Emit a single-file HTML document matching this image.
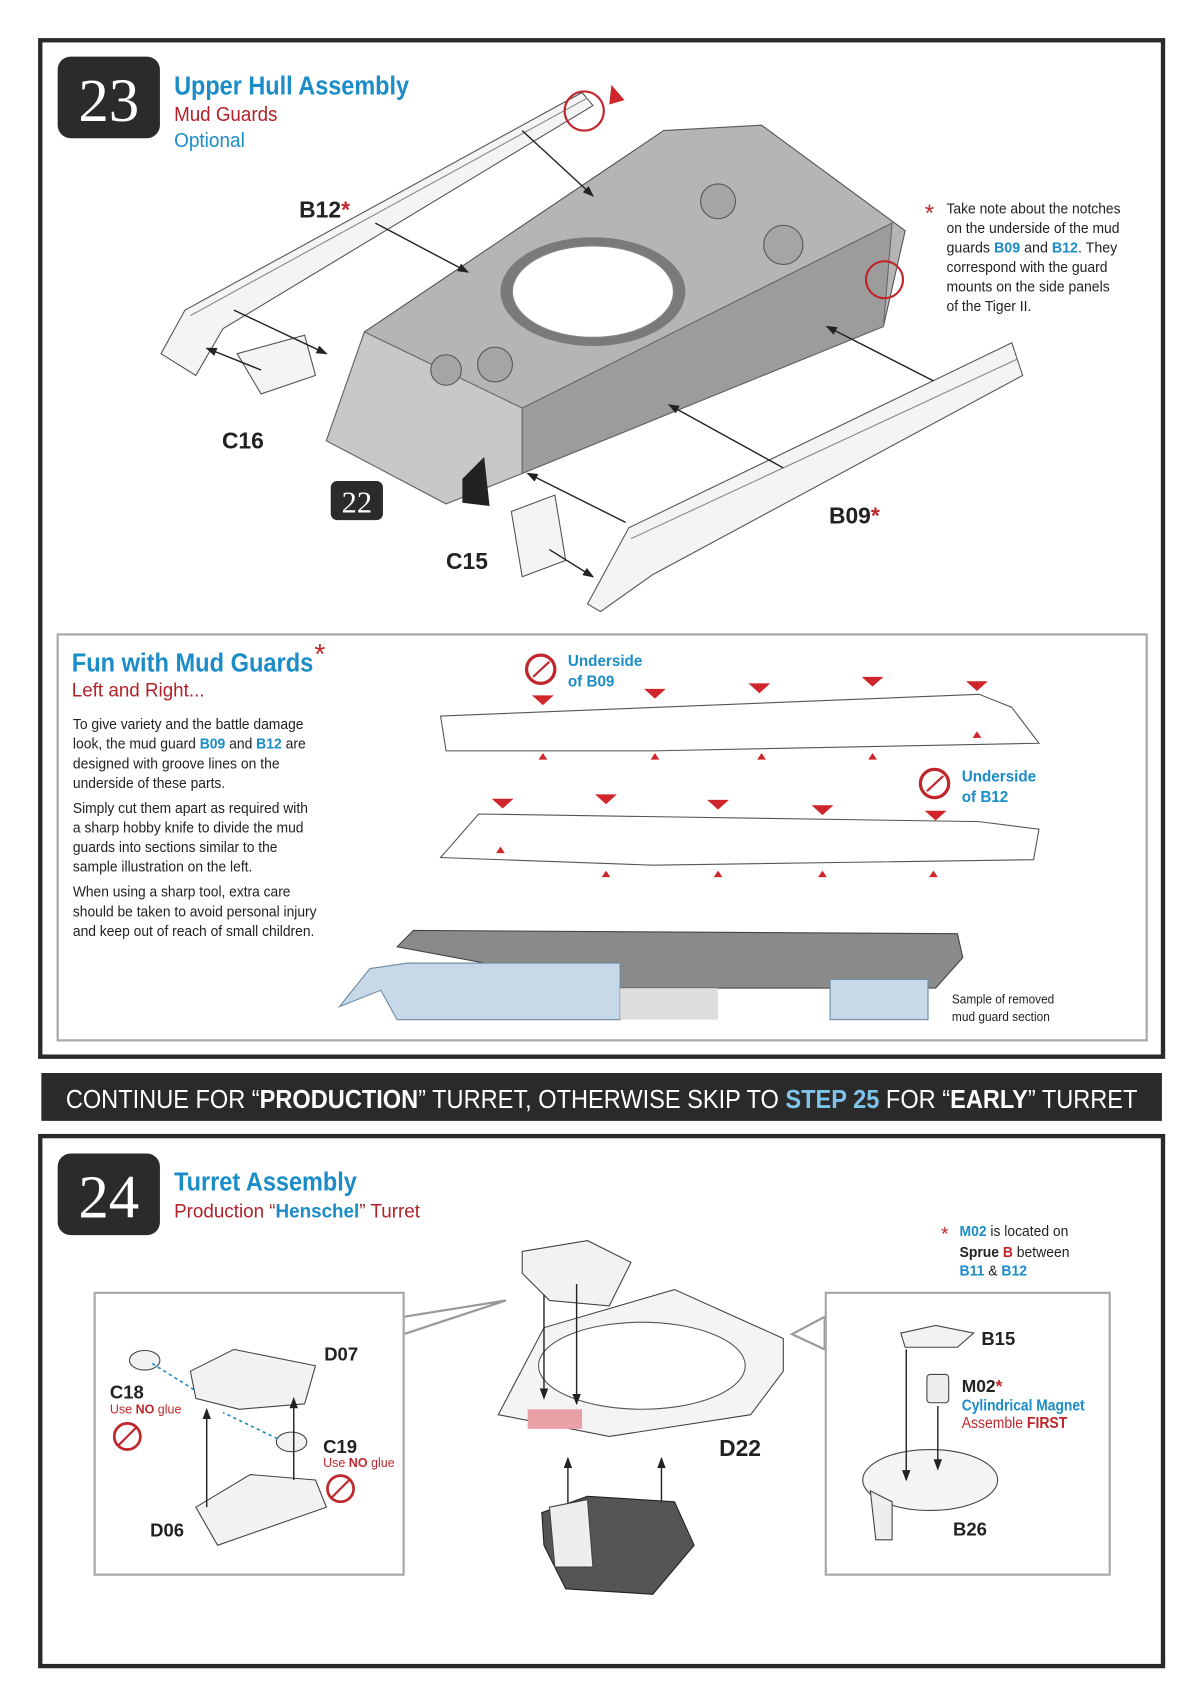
<!DOCTYPE html>
<html><head><meta charset="utf-8"><style>
html,body{margin:0;padding:0;background:#fff}
svg{display:block}
text{font-family:"Liberation Sans",sans-serif}
.n{font-family:"Liberation Serif",serif}
</style></head><body>
<svg width="1200" height="1702" viewBox="0 0 1103 1564" preserveAspectRatio="none" xmlns="http://www.w3.org/2000/svg">
<defs><marker id="a" markerWidth="8" markerHeight="8" refX="7" refY="4" orient="auto"><path d="M0,1 L8,4 L0,7z" fill="#222"/></marker></defs>
<!-- frame 1 -->
<rect x="37" y="37" width="1032" height="934" fill="#fff" stroke="#2a2a2a" stroke-width="4"/>
<rect x="53" y="52" width="94" height="75" rx="12" fill="#2b2b2b"/>
<text x="100" y="111" class="n" font-size="56" fill="#fff" text-anchor="middle">23</text>
<text x="160" y="87" font-size="24" font-weight="bold" fill="#1a8cc8" textLength="216" lengthAdjust="spacingAndGlyphs">Upper Hull Assembly</text>
<text x="160" y="111" font-size="19" fill="#b3212a" textLength="95" lengthAdjust="spacingAndGlyphs">Mud Guards</text>
<text x="160" y="135" font-size="19" fill="#1a8cc8" textLength="65" lengthAdjust="spacingAndGlyphs">Optional</text>
<!-- hull -->
<polygon points="300,405 335,305 610,120 700,115 832,212 812,300 480,435 410,463" fill="#b5b5b5" stroke="#555"/>
<polygon points="300,405 335,305 480,375 480,435 410,463" fill="#c8c8c8" stroke="#666"/>
<polygon points="480,375 820,205 812,300 480,435" fill="#9c9c9c" stroke="#666"/>
<ellipse cx="545" cy="268" rx="85" ry="50" fill="#7a7a7a"/>
<ellipse cx="545" cy="268" rx="74" ry="42" fill="#fff" stroke="#888"/>
<circle cx="660" cy="185" r="16" fill="#a5a5a5" stroke="#555"/><circle cx="720" cy="225" r="18" fill="#a5a5a5" stroke="#555"/><circle cx="410" cy="340" r="14" fill="#a5a5a5" stroke="#555"/><circle cx="455" cy="335" r="16" fill="#a5a5a5" stroke="#555"/>
<polygon points="425,440 445,420 450,465 425,462" fill="#222"/>
<!-- B12 guard -->
<polygon points="148,325 170,285 535,85 545,97 205,302 180,345" fill="#f4f4f4" stroke="#555"/>
<line x1="175" y1="290" x2="540" y2="90" stroke="#888"/>
<circle cx="537" cy="102" r="18" fill="none" stroke="#c0272d" stroke-width="2"/>
<polygon points="562,78 574,92 560,96" fill="#d0252b"/>
<polygon points="218,325 280,308 290,345 240,362" fill="#f4f4f4" stroke="#555"/>
<!-- B09 guard -->
<polygon points="540,555 578,485 930,315 940,345 600,528 552,562" fill="#f4f4f4" stroke="#555"/>
<line x1="580" y1="495" x2="935" y2="330" stroke="#888"/>
<polygon points="470,470 510,455 520,515 480,530" fill="#f4f4f4" stroke="#555"/>
<circle cx="813" cy="257" r="17" fill="none" stroke="#c0272d" stroke-width="2"/>
<!-- arrows -->
<g stroke="#222" stroke-width="1.3" marker-end="url(#a)">
<line x1="480" y1="120" x2="545" y2="180"/><line x1="345" y1="205" x2="430" y2="250"/><line x1="215" y1="285" x2="300" y2="325"/><line x1="240" y1="340" x2="190" y2="320"/>
<line x1="858" y1="350" x2="760" y2="300"/><line x1="720" y1="430" x2="615" y2="372"/><line x1="575" y1="480" x2="485" y2="435"/><line x1="505" y1="505" x2="545" y2="530"/>
</g>
<text x="275" y="200" font-size="21" font-weight="bold" fill="#222">B12<tspan fill="#c0272d">*</tspan></text>
<text x="204" y="412" font-size="21" font-weight="bold" fill="#222">C16</text>
<text x="762" y="481" font-size="21" font-weight="bold" fill="#222">B09<tspan fill="#c0272d">*</tspan></text>
<text x="410" y="523" font-size="21" font-weight="bold" fill="#222">C15</text>
<rect x="304" y="442" width="48" height="36" rx="6" fill="#2b2b2b"/>
<text x="328" y="471" class="n" font-size="28" fill="#fff" text-anchor="middle">22</text>
<text x="850" y="203" font-size="22" fill="#c0272d">*</text>
<g font-size="13.5" fill="#222" lengthAdjust="spacingAndGlyphs"><text x="870" y="196" textLength="160" lengthAdjust="spacingAndGlyphs">Take note about the notches</text><text x="870" y="214" textLength="159" lengthAdjust="spacingAndGlyphs">on the underside of the mud</text><text x="870" y="232" textLength="157" lengthAdjust="spacingAndGlyphs">guards <tspan fill="#1a8cc8" font-weight="bold">B09</tspan> and <tspan fill="#1a8cc8" font-weight="bold">B12</tspan>.  They</text><text x="870" y="250" textLength="148" lengthAdjust="spacingAndGlyphs">correspond with the guard</text><text x="870" y="268" textLength="150" lengthAdjust="spacingAndGlyphs">mounts on the side panels</text><text x="870" y="286" textLength="78" lengthAdjust="spacingAndGlyphs">of the Tiger II.</text></g>
<!-- fun box -->
<rect x="53" y="583" width="1001" height="373" fill="#fff" stroke="#a8a8a8" stroke-width="2"/>
<text x="66" y="617" font-size="24" font-weight="bold" fill="#1a8cc8" textLength="222" lengthAdjust="spacingAndGlyphs">Fun with Mud Guards</text><text x="289" y="610" font-size="26" fill="#c0272d">*</text>
<text x="66" y="640" font-size="18" fill="#b3212a" textLength="122" lengthAdjust="spacingAndGlyphs">Left and Right...</text>
<g font-size="13.5" fill="#222"><text x="67" y="670" textLength="212" lengthAdjust="spacingAndGlyphs">To give variety and the battle damage</text><text x="67" y="688" textLength="214" lengthAdjust="spacingAndGlyphs">look, the mud guard <tspan fill="#1a8cc8" font-weight="bold">B09</tspan> and <tspan fill="#1a8cc8" font-weight="bold">B12</tspan> are</text><text x="67" y="706" textLength="190" lengthAdjust="spacingAndGlyphs">designed with groove lines on the</text><text x="67" y="724" textLength="140" lengthAdjust="spacingAndGlyphs">underside of these parts.</text>
<text x="67" y="747" textLength="216" lengthAdjust="spacingAndGlyphs">Simply cut them apart as required with</text><text x="67" y="765" textLength="212" lengthAdjust="spacingAndGlyphs">a sharp hobby knife to divide the mud</text><text x="67" y="783" textLength="188" lengthAdjust="spacingAndGlyphs">guards into sections similar to the</text><text x="67" y="801" textLength="165" lengthAdjust="spacingAndGlyphs">sample illustration on the left.</text>
<text x="67" y="824" textLength="200" lengthAdjust="spacingAndGlyphs">When using a sharp tool, extra care</text><text x="67" y="842" textLength="224" lengthAdjust="spacingAndGlyphs">should be taken to avoid personal injury</text><text x="67" y="860" textLength="222" lengthAdjust="spacingAndGlyphs">and keep out of reach of small children.</text></g>
<circle cx="497" cy="615" r="13" fill="#fff" stroke="#c0272d" stroke-width="3"/><line x1="490" y1="622" x2="505" y2="608" stroke="#c0272d" stroke-width="2"/>
<text x="522" y="612" font-size="14" font-weight="bold" fill="#1a8cc8">Underside</text><text x="522" y="631" font-size="14" font-weight="bold" fill="#1a8cc8">of B09</text>
<polygon points="405,658 900,638 930,650 955,683 600,690 410,690" fill="#fff" stroke="#555"/>
<g fill="#d0252b"><polygon points="489,639 509,639 499,648"/><polygon points="592,633 612,633 602,642"/><polygon points="688,628 708,628 698,637"/><polygon points="792,622 812,622 802,631"/><polygon points="888,626 908,626 898,635"/>
<polygon points="499,692 495,698 503,698"/><polygon points="602,692 598,698 606,698"/><polygon points="700,692 696,698 704,698"/><polygon points="802,692 798,698 806,698"/><polygon points="898,672 894,678 902,678"/></g>
<circle cx="859" cy="720" r="13" fill="#fff" stroke="#c0272d" stroke-width="3"/><line x1="852" y1="727" x2="867" y2="713" stroke="#c0272d" stroke-width="2"/>
<text x="884" y="718" font-size="14" font-weight="bold" fill="#1a8cc8">Underside</text><text x="884" y="737" font-size="14" font-weight="bold" fill="#1a8cc8">of B12</text>
<polygon points="405,788 440,748 900,755 955,762 950,790 600,795" fill="#fff" stroke="#555"/>
<g fill="#d0252b"><polygon points="452,734 472,734 462,743"/><polygon points="547,730 567,730 557,739"/><polygon points="650,735 670,735 660,744"/><polygon points="746,740 766,740 756,749"/><polygon points="850,745 870,745 860,754"/>
<polygon points="460,778 456,784 464,784"/><polygon points="557,800 553,806 561,806"/><polygon points="660,800 656,806 664,806"/><polygon points="756,800 752,806 760,806"/><polygon points="858,800 854,806 862,806"/></g>
<polygon points="365,870 380,855 880,858 885,880 860,908 570,908" fill="#8a8a8a" stroke="#444"/>
<polygon points="312,925 340,890 375,885 570,885 570,937 365,937 350,910" fill="#c7d9e8" stroke="#6b8aa0"/>
<rect x="570" y="908" width="90" height="29" fill="#ddd"/>
<rect x="763" y="900" width="90" height="37" fill="#c7d9e8" stroke="#6b8aa0"/>
<text x="875" y="922" font-size="12" fill="#222" textLength="94" lengthAdjust="spacingAndGlyphs">Sample of removed</text><text x="875" y="938" font-size="12" fill="#222" textLength="90" lengthAdjust="spacingAndGlyphs">mud guard section</text>
<!-- banner -->
<rect x="38" y="986" width="1030" height="44" fill="#2a2a2a"/>
<text x="553" y="1018" font-size="24" fill="#fff" text-anchor="middle" textLength="985" lengthAdjust="spacingAndGlyphs">CONTINUE FOR “<tspan font-weight="bold">PRODUCTION</tspan>” TURRET, OTHERWISE SKIP TO <tspan font-weight="bold" fill="#7fc3ea">STEP 25</tspan>  FOR “<tspan font-weight="bold">EARLY</tspan>” TURRET</text>
<!-- frame 2 -->
<rect x="37" y="1044" width="1032" height="487" fill="#fff" stroke="#2a2a2a" stroke-width="4"/>
<rect x="53" y="1060" width="94" height="75" rx="12" fill="#2b2b2b"/>
<text x="100" y="1119" class="n" font-size="56" fill="#fff" text-anchor="middle">24</text>
<text x="160" y="1094" font-size="24" font-weight="bold" fill="#1a8cc8" textLength="168" lengthAdjust="spacingAndGlyphs">Turret Assembly</text>
<text x="160" y="1119" font-size="18" fill="#b3212a" textLength="226" lengthAdjust="spacingAndGlyphs">Production “<tspan fill="#1a8cc8" font-weight="bold">Henschel</tspan>” Turret</text>
<!-- left inset -->
<polygon points="371,1226 465,1195 371,1210" fill="#fff" stroke="#999" stroke-width="2"/>
<rect x="87" y="1188" width="284" height="259" fill="#fff" stroke="#a8a8a8" stroke-width="2"/>
<polygon points="175,1260 215,1240 290,1255 280,1290 220,1295 180,1285" fill="#f2f2f2" stroke="#444"/>
<polygon points="180,1385 230,1355 290,1360 300,1385 200,1420" fill="#f2f2f2" stroke="#444"/>
<ellipse cx="133" cy="1250" rx="14" ry="9" fill="#f2f2f2" stroke="#444"/><ellipse cx="268" cy="1325" rx="14" ry="9" fill="#f2f2f2" stroke="#444"/>
<g stroke="#222" stroke-width="1.3" marker-end="url(#a)"><line x1="190" y1="1385" x2="190" y2="1295"/><line x1="270" y1="1360" x2="270" y2="1285"/></g>
<g stroke="#1a8cc8" stroke-dasharray="3,3" stroke-width="1.5"><line x1="140" y1="1253" x2="180" y2="1278"/><line x1="255" y1="1322" x2="205" y2="1298"/></g>
<text x="298" y="1250" font-size="17" font-weight="bold" fill="#222">D07</text>
<text x="101" y="1285" font-size="17" font-weight="bold" fill="#222">C18</text><text x="101" y="1299" font-size="11.5" fill="#c0272d">Use <tspan font-weight="bold">NO</tspan> glue</text>
<circle cx="117" cy="1320" r="12" fill="none" stroke="#c0272d" stroke-width="2.5"/><line x1="109" y1="1328" x2="125" y2="1312" stroke="#c0272d" stroke-width="2"/>
<text x="297" y="1335" font-size="17" font-weight="bold" fill="#222">C19</text><text x="297" y="1348" font-size="11.5" fill="#c0272d">Use <tspan font-weight="bold">NO</tspan> glue</text>
<circle cx="313" cy="1368" r="12" fill="none" stroke="#c0272d" stroke-width="2.5"/><line x1="305" y1="1376" x2="321" y2="1360" stroke="#c0272d" stroke-width="2"/>
<text x="138" y="1412" font-size="17" font-weight="bold" fill="#222">D06</text>
<!-- center turret floor -->
<polygon points="480,1150 540,1140 580,1160 560,1200 505,1195 480,1170" fill="#f2f2f2" stroke="#444"/>
<polygon points="458,1300 500,1220 620,1185 720,1230 720,1260 690,1300 560,1320" fill="#f4f4f4" stroke="#444"/>
<ellipse cx="590" cy="1255" rx="95" ry="40" fill="#fff" stroke="#555"/>
<rect x="485" y="1295" width="50" height="18" fill="#e9a0a6"/>
<g stroke="#222" stroke-width="1.3" marker-end="url(#a)"><line x1="500" y1="1190" x2="500" y2="1285"/><line x1="530" y1="1180" x2="530" y2="1290"/><line x1="522" y1="1390" x2="522" y2="1340"/><line x1="608" y1="1410" x2="608" y2="1340"/></g>
<polygon points="498,1390 540,1375 620,1380 638,1420 600,1465 520,1460 500,1420" fill="#555" stroke="#222"/>
<polygon points="505,1385 540,1378 545,1440 510,1440" fill="#eee" stroke="#444"/>
<text x="661" y="1338" font-size="21" font-weight="bold" fill="#222">D22</text>
<!-- right inset -->
<polygon points="728,1226 758,1210 758,1240" fill="#fff" stroke="#999" stroke-width="2"/>
<rect x="759" y="1188" width="261" height="259" fill="#fff" stroke="#a8a8a8" stroke-width="2"/>
<text x="865" y="1140" font-size="18" fill="#c0272d">*</text>
<g font-size="13.5" fill="#222"><text x="882" y="1136" textLength="100" lengthAdjust="spacingAndGlyphs"><tspan fill="#1a8cc8" font-weight="bold">M02</tspan> is located on</text><text x="882" y="1155" textLength="101" lengthAdjust="spacingAndGlyphs"><tspan font-weight="bold">Sprue </tspan><tspan fill="#c0272d" font-weight="bold">B</tspan> between</text><text x="882" y="1172" textLength="62" lengthAdjust="spacingAndGlyphs"><tspan fill="#1a8cc8" font-weight="bold">B11</tspan> &amp; <tspan fill="#1a8cc8" font-weight="bold">B12</tspan></text></g>
<polygon points="828,1225 860,1218 895,1225 880,1238 832,1238" fill="#f2f2f2" stroke="#444"/>
<text x="902" y="1236" font-size="17" font-weight="bold" fill="#222">B15</text>
<rect x="852" y="1263" width="20" height="26" rx="3" fill="#eee" stroke="#444"/>
<text x="884" y="1279" font-size="16" font-weight="bold" fill="#222">M02<tspan fill="#c0272d">*</tspan></text>
<text x="884" y="1296" font-size="14" font-weight="bold" fill="#1a8cc8" textLength="113" lengthAdjust="spacingAndGlyphs">Cylindrical Magnet</text>
<text x="884" y="1312" font-size="14" fill="#c0272d" textLength="97" lengthAdjust="spacingAndGlyphs">Assemble <tspan font-weight="bold">FIRST</tspan></text>
<ellipse cx="855" cy="1360" rx="62" ry="28" fill="#f4f4f4" stroke="#444"/>
<polygon points="800,1370 820,1380 820,1415 805,1415" fill="#eee" stroke="#444"/>
<g stroke="#222" stroke-width="1.3" marker-end="url(#a)"><line x1="833" y1="1240" x2="833" y2="1360"/><line x1="862" y1="1292" x2="862" y2="1350"/></g>
<text x="876" y="1411" font-size="17" font-weight="bold" fill="#222">B26</text>
</svg>
</body></html>
